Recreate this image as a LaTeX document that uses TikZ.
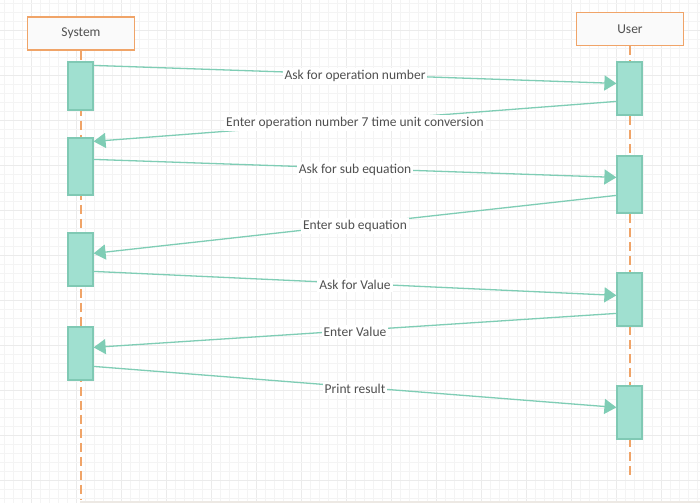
\documentclass[tikz,border=0pt]{standalone}
\usepackage{fontspec}
\setmainfont{Carlito}
\usetikzlibrary{arrows.meta,calc}
\definecolor{gridminor}{HTML}{F4F4F4}
\definecolor{gridmajor}{HTML}{EBEBEB}
\definecolor{lifeor}{HTML}{F0A468}
\definecolor{boxfill}{HTML}{FAFAFA}
\definecolor{teal}{HTML}{7FCDB5}
\definecolor{actfill}{HTML}{A0E0D0}
\definecolor{actdraw}{HTML}{80C9B4}
\definecolor{txt}{HTML}{505050}
\definecolor{edge}{HTML}{EDE9E4}
\tikzset{
  actor/.style={draw=lifeor, line width=1.8pt, fill=boxfill, minimum width=107pt, minimum height=33pt, inner sep=0pt, font=\fontsize{13.5}{15}\selectfont, text=txt},
  act/.style={draw=actdraw, line width=1.2pt, fill=actfill, minimum width=25pt, inner sep=0pt},
  lifeline/.style={draw=lifeor, line width=2pt, dash pattern=on 9pt off 5pt},
  msg/.style={draw=teal, line width=1.3pt, -{Triangle[length=12pt,width=15pt]}},
  lbl/.style={fill=white, inner sep=2pt, text=txt, yshift=-1.5pt, font=\fontsize{13.5}{15}\selectfont},
}
\begin{document}
\begin{tikzpicture}[x=1pt,y=-1pt]
\useasboundingbox (0,0) rectangle (700,503);
\fill[white] (0,0) rectangle (700,503);
% grid
\foreach \k in {0,...,77} {
  \pgfmathtruncatemacro{\m}{mod(\k,5)}
  \ifnum\m=3 \draw[gridmajor,line width=0.8pt] (4.3+9*\k,0) -- (4.3+9*\k,503);
  \else \draw[gridminor,line width=0.8pt] (4.3+9*\k,0) -- (4.3+9*\k,503); \fi
}
\foreach \k in {0,...,55} {
  \pgfmathtruncatemacro{\m}{mod(\k,5)}
  \ifnum\m=3 \draw[gridmajor,line width=0.8pt] (0,3+9*\k) -- (700,3+9*\k);
  \else \draw[gridminor,line width=0.8pt] (0,3+9*\k) -- (700,3+9*\k); \fi
}
\fill[edge] (80,500.5) rectangle (700,503);
% actors
\node[actor] (sys) at (81,33.5) {System};
\node[actor] (usr) at (630,29) {User};
\coordinate (sysend) at (80.5,500);
\coordinate (usrend) at (629.5,480);
\draw[lifeline] (sys.south -| sysend) -- (sysend);
\draw[lifeline] (usr.south -| usrend) -- (usrend);
% activations
\node[act, minimum height=48pt] (a1) at (80.5,86) {};
\node[act, minimum height=57pt] (a2) at (80.5,166.5) {};
\node[act, minimum height=53pt] (a3) at (80.5,259.5) {};
\node[act, minimum height=53pt] (a4) at (80.5,353.5) {};
\node[act, minimum height=53pt] (b1) at (629.5,88.5) {};
\node[act, minimum height=57pt] (b2) at (629.5,184.5) {};
\node[act, minimum height=53pt] (b3) at (629.5,299.5) {};
\node[act, minimum height=53pt] (b4) at (629.5,412.5) {};
% messages
\draw[msg] ([yshift=-4pt]a1.north east) -- node[lbl]{Ask for operation number} ([yshift=-22pt]b1.north west);
\draw[msg] ([yshift=-40pt]b1.north west) -- node[lbl]{Enter operation number 7 time unit conversion} ([yshift=-4pt]a2.north east);
\draw[msg] ([yshift=-22pt]a2.north east) -- node[lbl]{Ask for sub equation} ([yshift=-22pt]b2.north west);
\draw[msg] ([yshift=-40pt]b2.north west) -- node[lbl]{Enter sub equation} ([yshift=-21pt]a3.north east);
\draw[msg] ([yshift=-39pt]a3.north east) -- node[lbl]{Ask for Value} ([yshift=-23pt]b3.north west);
\draw[msg] ([yshift=-41pt]b3.north west) -- node[lbl]{Enter Value} ([yshift=-21pt]a4.north east);
\draw[msg] ([yshift=-40pt]a4.north east) -- node[lbl]{Print result} ([yshift=-22pt]b4.north west);
\end{tikzpicture}
\end{document}
